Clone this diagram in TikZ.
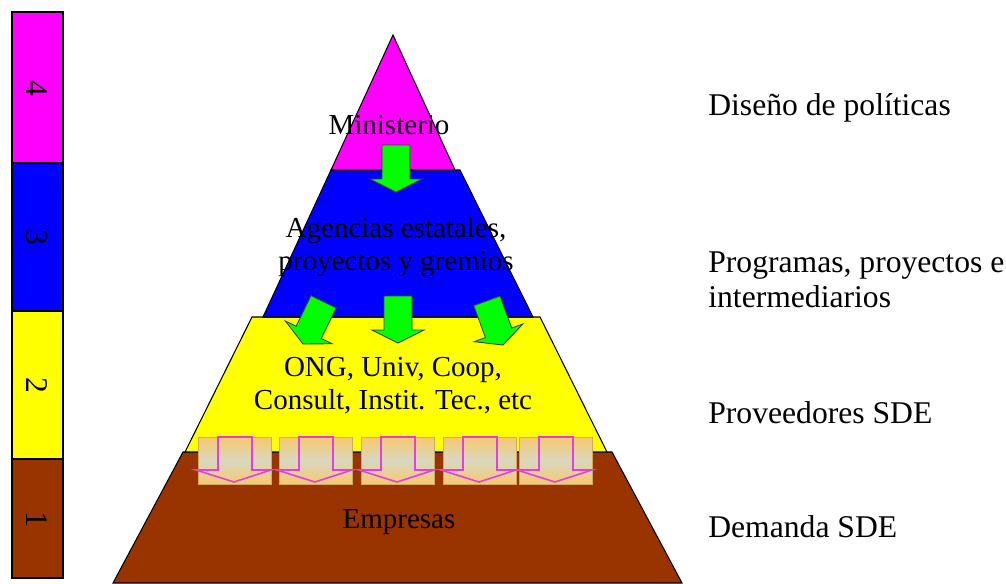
\documentclass[tikz,border=0pt]{standalone}
\usepackage{fontspec}
\setmainfont{Liberation Serif}

\tikzset{
  layer/.style={draw=black, line width=0.6pt},
  lvltext/.style={font=\fontsize{16.5}{18.7}\selectfont, align=center, inner sep=0pt},
  sidetext/.style={font=\fontsize{18}{20}\selectfont, anchor=west, align=left, inner sep=0pt},
  numtext/.style={font=\fontsize{18}{20}\selectfont, rotate=-90, inner sep=0pt},
  greenarrow/.style={fill=arrowgreen, draw=black!75, line width=0.5pt},
  flowbox/.style={top color=boxorange, bottom color=boxorange, middle color=boxpale, draw=boxorange!85!black, line width=0.3pt},
  flowarrow/.style={draw=flowmagenta, line width=0.9pt}
}

% green block arrow: tip at (#1,#2), turned by #3
\newcommand{\blockarrow}[3]{%
  \begin{scope}[shift={(#1,#2)}, rotate=#3]
    \draw[greenarrow] (0,0) -- (26,-13) -- (14,-13) -- (14,-47) -- (-14,-47) -- (-14,-13) -- (-26,-13) -- cycle;
  \end{scope}}

\begin{document}
\begin{tikzpicture}[x=0.02cm, y=-0.02cm]
        % Define colors
        \definecolor{lvlmagenta}{RGB}{255, 0, 255}
        \definecolor{lvlblue}{RGB}{0, 0, 255}
        \definecolor{lvlyellow}{RGB}{255, 255, 0}
        \definecolor{lvlbrown}{RGB}{153, 51, 0}
        \definecolor{arrowgreen}{RGB}{0, 255, 0}
        \definecolor{boxorange}{RGB}{248, 200, 110}
        \definecolor{boxpale}{RGB}{216, 216, 192}
        \definecolor{flowmagenta}{RGB}{224, 64, 224}

        \useasboundingbox (0,0) rectangle (1006,583);

        % Level bar on the left
        \draw[layer, fill=lvlmagenta] (12,12) rectangle (63,163);
        \draw[layer, fill=lvlblue] (12,163) rectangle (63,311);
        \draw[layer, fill=lvlyellow] (12,311) rectangle (63,459);
        \draw[layer, fill=lvlbrown] (12,459) rectangle (63,578);
        \node[numtext] (num4) at (37,88) {4};
        \node[numtext] (num3) at (37,237) {3};
        \node[numtext] (num2) at (37,385) {2};
        \node[numtext] (num1) at (37,519) {1};

        % Pyramid layers
        \draw[layer, fill=lvlbrown] (183,452) -- (612,452) -- (682,583) -- (113,583) -- cycle;
        \draw[layer, fill=lvlyellow] (252,317) -- (540,317) -- (607,452) -- (185,452) -- cycle;
        \draw[layer, fill=lvlblue] (331,170) -- (460,170) -- (533,317) -- (263,317) -- cycle;
        \draw[layer, fill=lvlmagenta] (393,35) -- (455,170) -- (331,170) -- cycle;

        % Green arrows
        \blockarrow{396}{192}{0}
        \blockarrow{303}{344}{-26}
        \blockarrow{398}{343}{0}
        \blockarrow{503}{345}{20}

        % Boxes with arrows between providers and firms
        \foreach \bx in {198,279,361,443,519} {
          \shadedraw[flowbox] (\bx,437) rectangle ++(73,47);
          \draw[flowarrow] (\bx+20,437) -- (\bx+20,470) -- (\bx-2,470) -- (\bx+36,482)
            -- (\bx+73,470) -- (\bx+54,470) -- (\bx+54,437) -- cycle;
        }

        % Texts in the pyramid
        \node[lvltext] (ministerio) at (389,125) {Ministerio};
        \node[lvltext] (agencias) at (396,247) {Agencias estatales,\\proyectos y gremios};
        \node[lvltext] (ong) at (393,386) {ONG, Univ, Coop,\\Consult, Instit. Tec., etc};
        \node[lvltext] (empresas) at (399,522) {Empresas};

        % Texts on the right
        \node[sidetext] (diseno) at (708,108) {Diseño de políticas};
        \node[sidetext, font=\fontsize{18}{19.8}\selectfont] (programas) at (708,280) {Programas, proyectos e\\intermediarios};
        \node[sidetext] (proveedores) at (708,413) {Proveedores SDE};
        \node[sidetext] (demanda) at (708,527) {Demanda SDE};
\end{tikzpicture}
\end{document}
